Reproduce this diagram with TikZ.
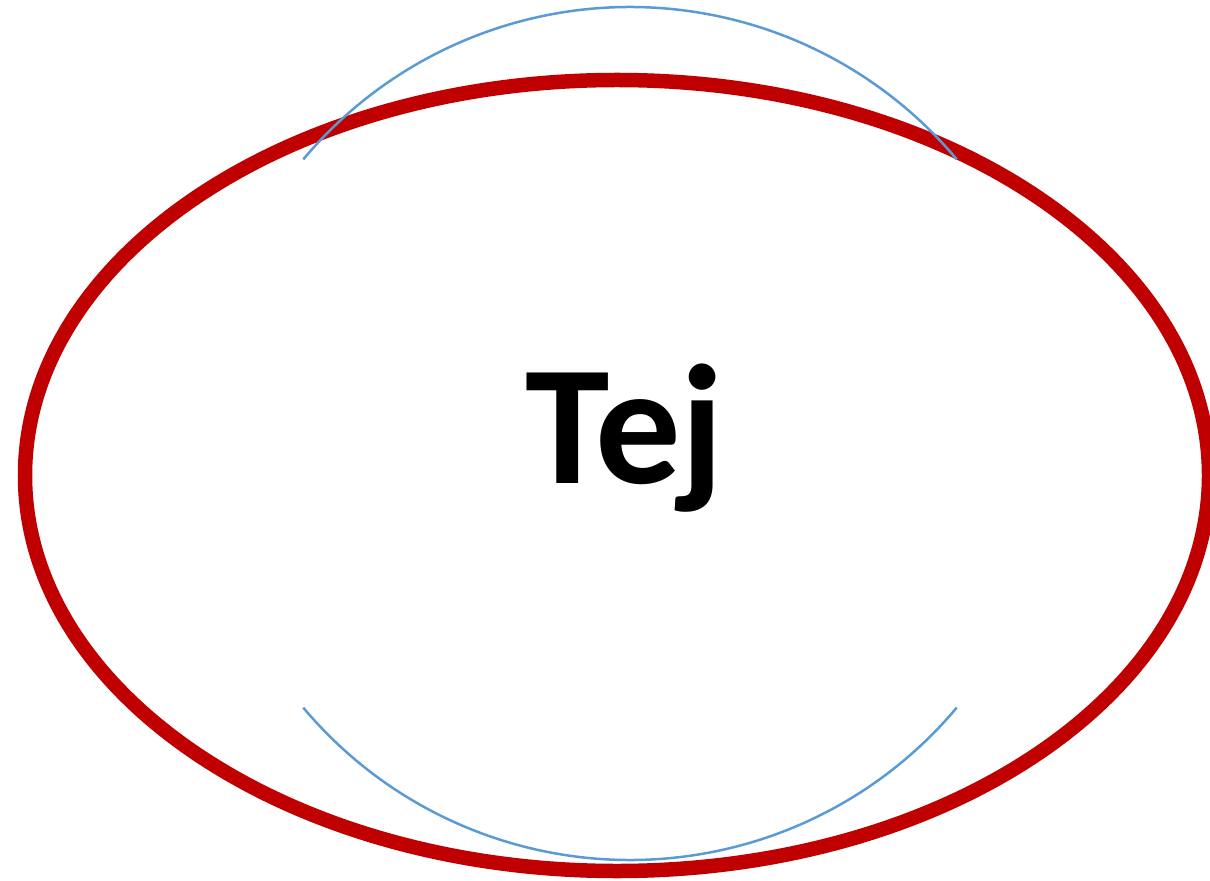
\documentclass[tikz,border=0pt]{standalone}
\usepackage{fontspec}
\setmainfont{Carlito}
\usetikzlibrary{shapes.geometric}
\definecolor{rim}{HTML}{C00000}
\definecolor{guide}{HTML}{5B9BD5}

\begin{document}
\begin{tikzpicture}[
    oval/.style={ellipse,draw=rim,line width=0.29cm,minimum width=23.68cm,minimum height=15.82cm,inner sep=0pt},
    halo/.style={draw=guide,line width=0.05cm},
    bigtxt/.style={font=\fontsize{97}{100}\selectfont\bfseries,inner sep=0pt,anchor=base}
]
\useasboundingbox (0,0) rectangle (24.2,17.6);
% Outline
\node[oval] (rimoval) at (12.34,8.09) {};
% Guide circle (upper and lower parts)
\coordinate (hub) at (12.6,8.93);
\draw[halo] ([shift={(140:8.53)}]hub) arc[start angle=140,end angle=40,radius=8.53];
\draw[halo] ([shift={(220:8.53)}]hub) arc[start angle=220,end angle=320,radius=8.53];
% Label
\node[bigtxt] (label) at (12.5,7.94) {Tej};
\end{tikzpicture}
\end{document}
